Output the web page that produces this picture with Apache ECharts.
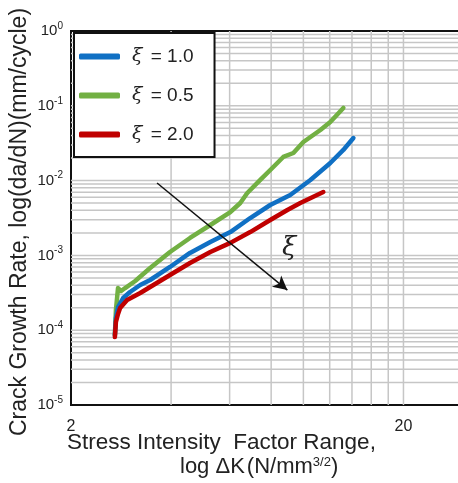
<!DOCTYPE html>
<html>
<head>
<meta charset="utf-8">
<script src="https://cdn.jsdelivr.net/npm/echarts@6/dist/echarts.min.js"></script>
<style>html,body{margin:0;padding:0;background:#fff;}#c{width:458px;height:483px;}</style>
</head>
<body>
<div id="c"></div>
<script>
// ---- data ----
const seriesNames = ['ξ = 1.0', 'ξ = 0.5', 'ξ = 2.0'];
const xi10 = [[2.71,8.6e-5],[2.73,1.46e-4],[2.77,2.04e-4],[2.87,2.69e-4],[3.01,3.24e-4],[3.23,4.02e-4],[3.46,4.69e-4],[3.97,7.0e-4],[4.56,1.08e-3],[5.25,1.51e-3],[6.03,2.05e-3],[6.92,3.16e-3],[7.95,4.72e-3],[9.13,6.42e-3],[10.5,1.02e-2],[12.05,1.72e-2],[13.19,2.57e-2],[14.14,3.71e-2]];
const xi05 = [[2.71,8.6e-5],[2.73,1.86e-4],[2.77,3.66e-4],[2.83,3.34e-4],[2.91,3.66e-4],[3.12,4.55e-4],[3.46,6.79e-4],[3.97,1.11e-3],[4.56,1.71e-3],[5.25,2.55e-3],[6.03,3.80e-3],[6.46,5.02e-3],[6.78,6.83e-3],[7.42,1.02e-2],[8.12,1.52e-2],[8.70,2.07e-2],[9.33,2.34e-2],[10.0,3.28e-2],[11.25,4.75e-2],[12.05,6.07e-2],[13.19,9.35e-2]];
const xi20 = [[2.71,8.1e-5],[2.73,1.29e-4],[2.77,1.65e-4],[2.81,1.98e-4],[2.95,2.53e-4],[3.23,3.14e-4],[3.46,3.78e-4],[3.97,5.47e-4],[4.56,7.91e-4],[5.25,1.11e-3],[6.03,1.47e-3],[6.92,2.05e-3],[7.95,2.97e-3],[8.95,4.05e-3],[9.79,5.02e-3],[11.48,7.04e-3]];
const xGridValues = [4,6,8,10,12,14,16,18,20];
const xLabelValues = [2,20];
const yDecades = [-5,-4,-3,-2,-1,0];
const yMinorMultipliers = [1,2,3,4,5,6,7,8,9];
const arrowFrom = [3.63, 9.29e-3];
const arrowTo = [8.95, 3.44e-4];
const arrowLabelPos = [9.07, 1.26e-3];
const colors = ['#1070c4', '#72b043', '#c00000'];
const xMin = 2, xMax = 30, yMin = 1e-5, yMax = 1;

// gridline values (axis structure)
const yGridValues = [];
yDecades.forEach(function(d){ yMinorMultipliers.forEach(function(k){ const v = k*Math.pow(10,d); if (v > yMin*1.0000001 && v < yMax*0.9999999) yGridValues.push(v); }); });

const gridLineStyle = {color:'#c6c6c6', width:1.5, type:'solid'};
const gridSeries = [];
xGridValues.forEach(function(v){
  gridSeries.push({type:'line', data:[[v,yMin],[v,yMax]], showSymbol:false, silent:true, z:1, lineStyle:gridLineStyle, color:'#c6c6c6', tooltip:{show:false}});
});
yGridValues.forEach(function(v){
  gridSeries.push({type:'line', data:[[xMin,v],[xMax,v]], showSymbol:false, silent:true, z:1, lineStyle:gridLineStyle, color:'#c6c6c6', tooltip:{show:false}});
});

const chart = echarts.init(document.getElementById('c'));
const option = {
  animation:false,
  grid:{left:71, top:31, right:-4, bottom:78, show:true, borderColor:'#111', borderWidth:2, backgroundColor:'transparent', containLabel:false, outerBoundsMode:'none'},
  legend:{
    left:74, top:33, orient:'vertical', data:seriesNames, z:10,
    backgroundColor:'#fff', borderColor:'#111', borderWidth:2, borderRadius:0,
    padding:[13,21,12,5], itemGap:18, itemWidth:41, itemHeight:6, icon:'roundRect',
    textStyle:{fontFamily:'Liberation Sans', fontSize:19, color:'#222', lineHeight:21,
      rich:{xi:{fontFamily:'DejaVu Serif', fontStyle:'italic', fontSize:19, color:'#222', padding:[0,3,0,7]}}},
    formatter:function(n){ return '{xi|ξ}' + n.slice(1); }
  },
  xAxis:{type:'log', logBase:10, min:xMin, max:xMax,
    axisLine:{show:true, lineStyle:{color:'#111', width:2}},
    axisTick:{show:false}, splitLine:{show:false}, minorSplitLine:{show:false},
    axisLabel:{show:false}
  },
  yAxis:{type:'log', logBase:10, min:yMin, max:yMax,
    axisLine:{show:true, lineStyle:{color:'#111', width:2}},
    axisTick:{show:false}, splitLine:{show:false},
    axisLabel:{margin:8, color:'#222', fontFamily:'Liberation Sans',
      formatter:function(v){ const e = Math.round(Math.log10(v)); return '{b|10}{s|' + e + '}'; },
      rich:{b:{fontSize:15, fontFamily:'Liberation Sans', color:'#222'}, s:{fontSize:10, fontFamily:'Liberation Sans', color:'#222', padding:[0,0,10,0]}}}
  },
  graphic:[
    {type:'text', x:20, y:222, rotation:Math.PI/2, z:10,
      style:{text:'Crack Growth Rate, log(da/dN)(mm/cycle)', font:'23px "Liberation Sans"', fill:'#222', align:'center', verticalAlign:'middle'}},
    {type:'text', x:67, y:443, z:10, style:{text:'Stress Intensity  Factor Range,', font:'22.5px "Liberation Sans"', fill:'#222', verticalAlign:'middle'}},
    {type:'text', x:180, y:467, z:10, style:{text:'{a|log ΔK}{c|(N/mm}{s|3/2}{a|)}', verticalAlign:'middle',
      rich:{a:{font:'22px "Liberation Sans"', fill:'#222'}, c:{font:'22px "Liberation Sans"', fill:'#222', padding:[0,0,0,2]}, s:{font:'13px "Liberation Sans"', fill:'#222', padding:[0,0,10,0]}}}}
  ],
  series: gridSeries.concat([
    {name:'labels', type:'line', data:[], silent:true, z:3,
      markPoint:{silent:true, z:3, symbol:'circle', symbolSize:0,
        data: xLabelValues.map(function(v){ return {coord:[v, yMin], label:{show:true, formatter:String(v), position:'bottom', distance:14, fontFamily:'Liberation Sans', fontSize:16, color:'#222'}}; })}},
    {name:seriesNames[0], type:'line', data:xi10, showSymbol:false, z:5, color:colors[0], lineStyle:{width:4.5, cap:'round', join:'round'}},
    {name:seriesNames[1], type:'line', data:xi05, showSymbol:false, z:4, color:colors[1], lineStyle:{width:4.5, cap:'round', join:'round'}},
    {name:seriesNames[2], type:'line', data:xi20, showSymbol:false, z:6, color:colors[2], lineStyle:{width:4.5, cap:'round', join:'round'},
      markLine:{silent:true, z:7, symbol:['none','arrow'], symbolSize:[11,14], label:{show:false}, lineStyle:{color:'#111', width:1.5, type:'solid'},
        data:[[{coord:arrowFrom},{coord:arrowTo}]]},
      markPoint:{silent:true, z:7, symbol:'circle', symbolSize:0,
        data:[{coord:arrowLabelPos, label:{show:true, formatter:'ξ', fontFamily:'DejaVu Serif', fontStyle:'italic', fontSize:26, color:'#222', position:'inside'}}]}}
  ])
};
chart.setOption(option);
</script>
</body>
</html>
